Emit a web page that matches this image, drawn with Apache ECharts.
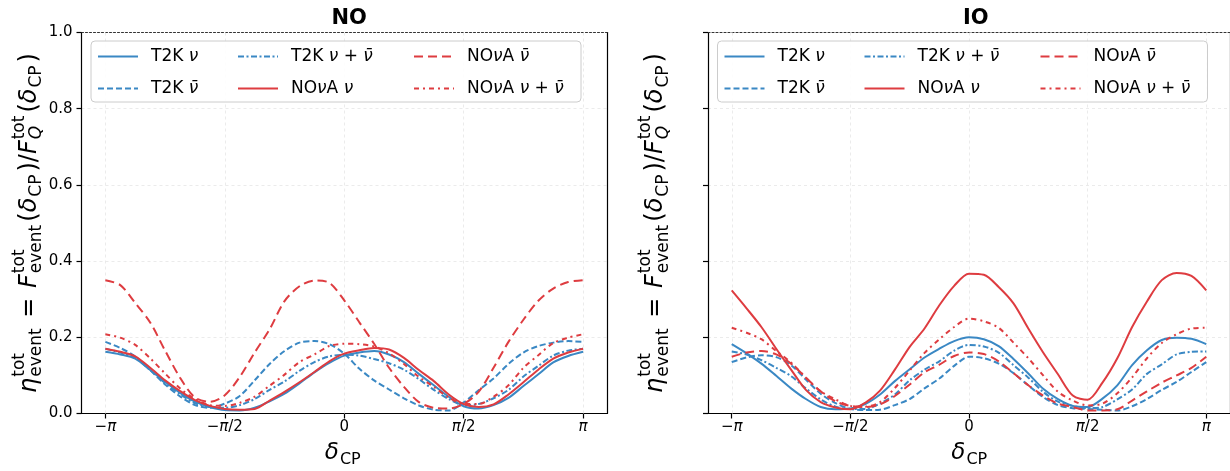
<!DOCTYPE html>
<html><head><meta charset="utf-8">
<script src="https://cdn.jsdelivr.net/npm/echarts@6/dist/echarts.min.js"></script>
<style>html,body{margin:0;padding:0;background:#fff}#c{width:1230px;height:471px}</style>
</head><body><div id="c"></div>
<script>
// ---------------- data ----------------
const PI = Math.PI;
const deltaOverPi = [-1,-0.9375,-0.875,-0.8125,-0.75,-0.6875,-0.625,-0.5625,-0.5,-0.4375,-0.375,-0.3125,-0.25,-0.1875,-0.125,-0.0625,0,
  0.0625,0.125,0.1875,0.25,0.3125,0.375,0.4375,0.5,0.5625,0.625,0.6875,0.75,0.8125,0.875,0.9375,1];
const seriesNames = ['T2K ν','T2K ν\u0304','T2K ν + ν\u0304','NOνA ν','NOνA ν\u0304','NOνA ν + ν\u0304'];
const panelTitles = ['NO','IO'];
const xTickOverPi = [-1,-0.5,0,0.5,1];
const xTickLabels = ['−π','−π/2','0','π/2','π'];
const yTickMin = 0, yTickMax = 1, yTickStep = 0.2;

// NO panel
const NO_T2K_nu     = [0.162,0.155,0.144,0.114,0.083,0.054,0.031,0.017,0.009,0.008,0.015,0.032,0.052,0.079,0.108,0.133,0.152,
  0.160,0.164,0.155,0.135,0.104,0.074,0.044,0.019,0.013,0.022,0.041,0.072,0.103,0.134,0.151,0.162];
const NO_T2K_nubar  = [0.188,0.172,0.150,0.114,0.076,0.045,0.022,0.015,0.026,0.046,0.087,0.130,0.164,0.186,0.190,0.182,0.157,
  0.118,0.087,0.063,0.040,0.021,0.010,0.008,0.029,0.061,0.092,0.130,0.160,0.177,0.186,0.190,0.188];
const NO_T2K_both   = [0.170,0.160,0.147,0.114,0.080,0.051,0.027,0.017,0.015,0.022,0.038,0.062,0.084,0.112,0.135,0.150,0.154,
  0.152,0.143,0.132,0.115,0.090,0.062,0.038,0.022,0.025,0.040,0.062,0.097,0.125,0.152,0.165,0.170];
const NO_NOvA_nu    = [0.170,0.162,0.150,0.120,0.087,0.059,0.035,0.020,0.012,0.010,0.012,0.034,0.057,0.082,0.109,0.137,0.157,
  0.166,0.172,0.168,0.146,0.114,0.085,0.050,0.025,0.017,0.024,0.050,0.082,0.115,0.144,0.160,0.170];
const NO_NOvA_nubar = [0.350,0.337,0.290,0.239,0.165,0.094,0.042,0.031,0.048,0.096,0.160,0.221,0.295,0.334,0.349,0.343,0.297,
  0.240,0.183,0.120,0.070,0.030,0.015,0.013,0.025,0.057,0.120,0.188,0.246,0.296,0.328,0.345,0.350];
const NO_NOvA_both  = [0.208,0.199,0.180,0.145,0.105,0.066,0.038,0.022,0.020,0.028,0.044,0.073,0.102,0.135,0.155,0.177,0.183,
  0.182,0.176,0.158,0.130,0.096,0.070,0.042,0.025,0.025,0.044,0.074,0.120,0.153,0.185,0.199,0.208];
// IO panel
const IO_T2K_nu     = [0.182,0.158,0.131,0.099,0.066,0.038,0.017,0.011,0.013,0.025,0.050,0.085,0.116,0.147,0.170,0.190,0.200,
  0.195,0.177,0.143,0.105,0.065,0.038,0.020,0.017,0.039,0.074,0.127,0.166,0.193,0.199,0.196,0.182];
const IO_T2K_nubar  = [0.135,0.147,0.153,0.148,0.127,0.089,0.052,0.027,0.012,0.009,0.010,0.022,0.038,0.066,0.092,0.125,0.149,
  0.145,0.131,0.106,0.074,0.043,0.022,0.014,0.012,0.010,0.008,0.019,0.038,0.062,0.083,0.109,0.135];
const IO_T2K_both   = [0.163,0.155,0.140,0.120,0.098,0.066,0.037,0.018,0.012,0.012,0.026,0.050,0.087,0.115,0.137,0.165,0.180,
  0.176,0.160,0.127,0.094,0.057,0.031,0.020,0.014,0.017,0.037,0.063,0.104,0.129,0.155,0.162,0.163];
const IO_NOvA_nu    = [0.323,0.276,0.227,0.170,0.115,0.062,0.030,0.016,0.011,0.028,0.060,0.115,0.175,0.223,0.284,0.335,0.367,
  0.364,0.332,0.289,0.223,0.160,0.103,0.047,0.036,0.081,0.145,0.227,0.294,0.350,0.369,0.361,0.323];
const IO_NOvA_nubar = [0.149,0.160,0.164,0.155,0.131,0.094,0.058,0.032,0.020,0.017,0.024,0.046,0.076,0.108,0.128,0.151,0.160,
  0.156,0.137,0.106,0.074,0.047,0.026,0.017,0.008,0.008,0.011,0.034,0.058,0.081,0.100,0.120,0.149];
const IO_NOvA_both  = [0.225,0.212,0.195,0.164,0.134,0.094,0.058,0.037,0.020,0.018,0.030,0.067,0.113,0.159,0.195,0.227,0.249,
  0.242,0.225,0.186,0.145,0.100,0.057,0.034,0.021,0.026,0.053,0.095,0.145,0.185,0.208,0.223,0.225];

const panelData = [
  [NO_T2K_nu, NO_T2K_nubar, NO_T2K_both, NO_NOvA_nu, NO_NOvA_nubar, NO_NOvA_both],
  [IO_T2K_nu, IO_T2K_nubar, IO_T2K_both, IO_NOvA_nu, IO_NOvA_nubar, IO_NOvA_both]
];

// ---------------- styles ----------------
const BLUE = '#3A88C4', RED = '#DE3C40';
const seriesStyles = [
  {color: BLUE, type: 'solid'},
  {color: BLUE, type: [6, 3]},
  {color: BLUE, type: [6, 2.5, 2, 2.5]},
  {color: RED,  type: 'solid'},
  {color: RED,  type: [9, 5]},
  {color: RED,  type: [5, 4, 2, 4]}
];
const FONT = 'DejaVu Sans';
const grids = [{left: 81.5, top: 32.5, width: 525.5, height: 381}, {left: 708, top: 32.5, width: 525.5, height: 381}];
const xPad = 0.1 * PI;
const gridLineStyle = {color: '#e6e6e6', type: [3, 3], width: 0.8};

function tickRich(s) { return s.replace(/π/g, '{i|π}'); }
function legendRich(s) { return s.replace(/ν\u0304|ν/g, m => '{i|' + m + '}'); }

// math label builder (real text elements placed side by side)
const mctx = document.createElement('canvas').getContext('2d');
function mathGroup(tokens, size, x, y, rot) {
  const small = Math.round(size * 0.7);
  const f = (sz, it) => (it ? 'italic ' : '') + sz + 'px "' + FONT + '"';
  const w = (text, font) => { mctx.font = font; return mctx.measureText(text).width; };
  const items = []; let cx = 0;
  tokens.forEach(tk => {
    if (tk.t !== undefined) {
      const ft = f(size, tk.i); items.push({text: tk.t, font: ft, x: cx, dy: 0}); cx += w(tk.t, ft) + (tk.gap || 0);
    } else {
      let ww = 0;
      if (tk.sup) { const ft = f(small, tk.supI); items.push({text: tk.sup, font: ft, x: cx + 1, dy: -0.42 * size}); ww = Math.max(ww, w(tk.sup, ft)); }
      if (tk.sub) { const ft = f(small, tk.subI); items.push({text: tk.sub, font: ft, x: cx + 1, dy: 0.3 * size}); ww = Math.max(ww, w(tk.sub, ft)); }
      cx += ww + 4;
    }
  });
  const W = cx;
  return {type: 'group', x: x, y: y, rotation: rot, silent: true, z: 20,
    children: items.map(it => ({type: 'text', x: it.x - W / 2, y: it.dy,
      style: {text: it.text, font: it.font, fill: '#000', align: 'left', verticalAlign: 'middle', textAlign: 'left', textVerticalAlign: 'middle'}}))};
}
const yLabelTokens = [{t:'η',i:1},{sup:'tot',sub:'event'},{t:' = ',gap:2},{t:'F',i:1},{sup:'tot',sub:'event'},{t:'('},{t:'δ',i:1},{sub:'CP'},{t:')/'},{t:'F',i:1},{sup:'tot',sub:'Q',subI:1},{t:'('},{t:'δ',i:1},{sub:'CP'},{t:')'}];
const xLabelTokens = [{t:'δ',i:1},{sub:'CP'}];

const xAxes = [], yAxes = [], series = [], legends = [], graphics = [], titles = [];
grids.forEach((g, p) => {
  const cxp = g.left + g.width / 2;
  titles.push({text: panelTitles[p], left: cxp, top: 3, textAlign: 'center',
    textStyle: {fontSize: 21, fontWeight: 'bold', fontFamily: FONT, color: '#000'}});
  xAxes.push({gridIndex: p, type: 'value', min: -PI - xPad, max: PI + xPad, position: 'bottom',
    axisLine: {show: true, onZero: false, lineStyle: {color: '#000', width: 1.2}},
    axisTick: {show: true, length: 5, customValues: xTickOverPi.map(t => t * PI), lineStyle: {color: '#000', width: 1.2}},
    axisLabel: {show: true, customValues: xTickOverPi.map(t => t * PI), margin: 6, fontSize: 15, fontFamily: FONT, color: '#000',
      formatter: v => { let k = 0; xTickOverPi.forEach((t, i) => { if (Math.abs(t * PI - v) < Math.abs(xTickOverPi[k] * PI - v)) k = i; }); return tickRich(xTickLabels[k]); },
      rich: {i: {fontStyle: 'italic', fontSize: 15, fontFamily: FONT, color: '#000'}}},
    splitLine: {show: false}});
  xAxes.push({gridIndex: p, type: 'value', min: -PI - xPad, max: PI + xPad, position: 'top',
    axisLine: {show: true, onZero: false, lineStyle: {color: '#333', width: 1, type: [2, 2]}},
    axisTick: {show: false}, axisLabel: {show: false}, splitLine: {show: false}});
  yAxes.push({gridIndex: p, type: 'value', min: yTickMin, max: yTickMax, interval: yTickStep, position: 'left',
    axisLine: {show: true, onZero: false, lineStyle: {color: '#000', width: 1.2}},
    axisTick: {show: true, length: 5, lineStyle: {color: '#000', width: 1.2}},
    axisLabel: {show: p === 0, margin: 9, fontSize: 15, fontFamily: FONT, color: '#000', formatter: v => v.toFixed(1)},
    splitLine: {show: true, lineStyle: gridLineStyle}});
  yAxes.push({gridIndex: p, type: 'value', min: yTickMin, max: yTickMax, position: 'right',
    axisLine: {show: true, onZero: false, lineStyle: {color: '#000', width: 1.2}},
    axisTick: {show: false}, axisLabel: {show: false}, splitLine: {show: false}});
  panelData[p].forEach((arr, s) => {
    const ser = {type: 'line', name: seriesNames[s], xAxisIndex: 2 * p, yAxisIndex: 2 * p,
      data: deltaOverPi.map((t, i) => [t * PI, arr[i]]), smooth: 0.3, symbol: 'none', showSymbol: false,
      lineStyle: {color: seriesStyles[s].color, type: seriesStyles[s].type, width: 2},
      itemStyle: {color: seriesStyles[s].color}, z: 3 + s, silent: true};
    if (s === 0) {
      ser.markLine = {silent: true, symbol: ['none', 'none'], label: {show: false}, lineStyle: gridLineStyle, z: 1,
        data: xTickOverPi.map(t => ({xAxis: t * PI}))};
    }
    series.push(ser);
  });
  // legend frame and three legend columns
  const off = g.left - grids[0].left;
  graphics.push({type: 'rect', shape: {x: 91 + off, y: 41, width: 490, height: 61, r: 4},
    style: {fill: 'rgba(255,255,255,0.9)', stroke: '#cccccc', lineWidth: 1}, z: 10, silent: true});
  const colX = [97, 237, 413];
  colX.forEach((cx, c) => {
    legends.push({data: [seriesNames[2 * c], seriesNames[2 * c + 1]], orient: 'vertical', left: cx + off, top: 48,
      itemWidth: 40, itemHeight: 14, itemGap: 15, padding: 0, selectedMode: false, z: 12,
      itemStyle: {opacity: 0, borderWidth: 0},
      formatter: n => legendRich(n),
      textStyle: {fontSize: 17, fontFamily: FONT, color: '#000', padding: [0, 0, 0, 8],
        rich: {i: {fontStyle: 'italic', fontSize: 17, fontFamily: FONT, color: '#000'}}}});
  });
  graphics.push(mathGroup(yLabelTokens, 24, g.left - 52, g.top + g.height / 2, PI / 2));
  graphics.push(mathGroup(xLabelTokens, 23, cxp, 453, 0));
});

const chart = echarts.init(document.getElementById('c'), null, {renderer: 'canvas'});
chart.setOption({
  animation: false,
  textStyle: {fontFamily: FONT},
  title: titles,
  grid: grids,
  xAxis: xAxes,
  yAxis: yAxes,
  legend: legends,
  series: series,
  graphic: graphics
});
</script></body></html>
